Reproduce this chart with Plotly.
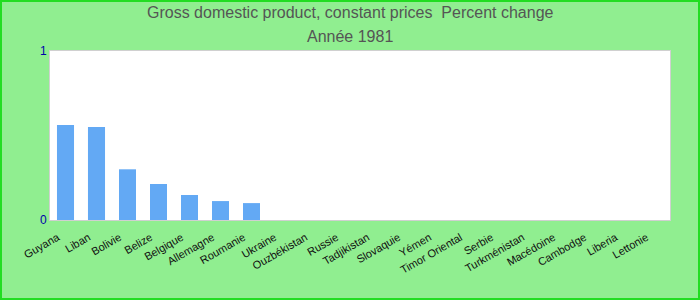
import plotly.graph_objects as go

countries = ["Guyana", "Liban", "Bolivie", "Belize", "Belgique", "Allemagne", "Roumanie",
             "Ukraine", "Ouzbékistan", "Russie", "Tadjikistan", "Slovaquie", "Yémen",
             "Timor Oriental", "Serbie", "Turkménistan", "Macédoine", "Cambodge", "Liberia", "Lettonie"]
values = [0.562, 0.55, 0.30, 0.213, 0.148, 0.112, 0.10,
          0, 0, 0, 0, 0, 0, 0, 0, 0, 0, 0, 0, 0]
title_lines = ["Gross domestic product, constant prices  Percent change", "Année 1981"]

W, H = 700, 300
ml, mr, mt, mb = 50, 30, 51, 80

fig = go.Figure(go.Bar(x=countries, y=values, marker_color="#63a9f4",
                       marker_line_width=0))

pw = W - ml - mr
ph = H - mt - mb
fig.add_shape(type="rect", xref="paper", yref="paper",
              x0=-(ml - 1) / pw, x1=1 + (mr - 1) / pw,
              y0=-(mb - 1) / ph, y1=1 + (mt - 1) / ph,
              line=dict(color="#22dd22", width=2), layer="below")

for i, (txt, ypx) in enumerate(zip(title_lines, [13, 36])):
    fig.add_annotation(text=txt, xref="paper", yref="paper",
                       x=(W / 2 - ml) / pw, y=1 + (mt - ypx) / ph,
                       xanchor="center", yanchor="middle", showarrow=False,
                       font=dict(size=16, color="#555555"))

fig.update_layout(
    width=W, height=H,
    margin=dict(l=ml, r=mr, t=mt, b=mb),
    paper_bgcolor="#90ee90",
    plot_bgcolor="white",
    font=dict(family="Liberation Sans, Arial, sans-serif", size=11, color="#111"),
    bargap=0.45,
    showlegend=False,
)
fig.update_xaxes(tickangle=-30, showline=True, linecolor="#d0d0d0", linewidth=1,
                 mirror=True, ticks="", showgrid=False,
                 ticklabelstandoff=6, ticklabelshift=-8)
fig.update_yaxes(range=[0, 1], tickvals=[0, 1], showgrid=False, zeroline=False,
                 showline=True, linecolor="#d0d0d0", linewidth=1, mirror=True,
                 tickfont=dict(color="#0000aa", size=12), ticks="")

fig.write_html("out.html")
